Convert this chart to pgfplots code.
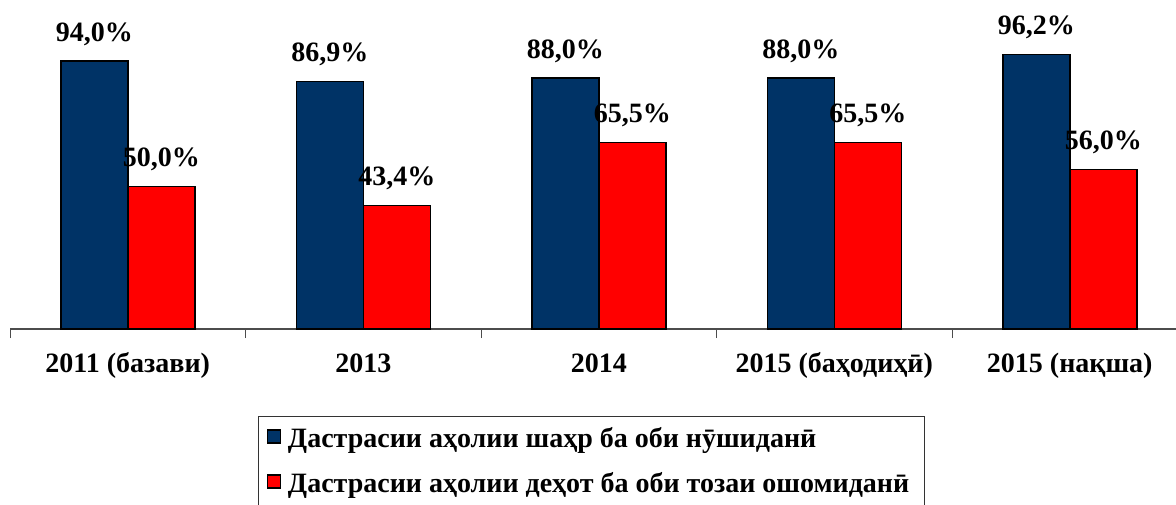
\documentclass[border=0pt]{standalone}
\usepackage{fontspec}
\setmainfont{Liberation Serif}
\usepackage{pgfplots}
\pgfplotsset{compat=1.18}
\definecolor{navy}{RGB}{0,51,102}
\definecolor{bred}{RGB}{255,0,0}
\newcommand\bigf{\fontsize{14}{16.5}\selectfont\bfseries}
\begin{document}
\begin{tikzpicture}
\clip (0,0) rectangle (588pt,-252pt);
\begin{axis}[
 at={(5pt,-164.5pt)}, anchor=south west,
 scale only axis, width=588.75pt, height=164.5pt,
 xmin=-0.5, xmax=4.5, ymin=0, ymax=115.4,
 axis x line*=bottom, axis y line=none,
 ybar=0pt, bar width=33.5pt,
 xtick={0,1,2,3,4},
 xticklabels={2011 (базави),2013,2014,2015 (баҳодиҳӣ),2015 (нақша)},
 minor xtick={-0.5,0.5,1.5,2.5,3.5,4.5},
 major tick length=0pt, minor tick length=4.5pt, tick align=outside,
 tick style={black!70, line width=0.5pt},
 x axis line style={black!70, line width=0.6pt},
 xticklabel style={font=\bigf, anchor=north, text height=10pt, text depth=3.5pt, yshift=-8pt},
 nodes near coords={\pgfmathprintnumber[fixed,fixed zerofill,precision=1,use comma,assume math mode=true]{\pgfplotspointmeta}\%},
 every node near coord/.append style={font=\bigf, yshift=4pt},
 clip=false,
 legend style={at={(0.2106,-0.2644)}, anchor=north west, draw=black!80, line width=0.6pt, font=\bigf, inner xsep=4pt, inner ysep=5pt, row sep=8.6pt, nodes={inner ysep=0pt, inner xsep=3.5pt, text height=10.3pt, text depth=3.6pt}},
 legend cell align=left,
]
\addplot[fill=navy, draw=black, line width=0.75pt,
 legend image code/.code={\draw[fill=navy,draw=black,line width=0.7pt] (0pt,-1.25pt) rectangle (6.5pt,5.25pt);}]
 coordinates {(0,94.0) (1,86.9) (2,88.0) (3,88.0) (4,96.2)};
\addlegendentry{Дастрасии аҳолии шаҳр ба оби нӯшиданӣ}
\addplot[fill=bred, draw=black, line width=0.75pt,
 legend image code/.code={\draw[fill=bred,draw=black,line width=0.7pt] (0pt,-1.25pt) rectangle (6.5pt,5.25pt);}]
 coordinates {(0,50.0) (1,43.4) (2,65.5) (3,65.5) (4,56.0)};
\addlegendentry{Дастрасии аҳолии деҳот ба оби тозаи ошомиданӣ}
\end{axis}
\end{tikzpicture}
\end{document}
